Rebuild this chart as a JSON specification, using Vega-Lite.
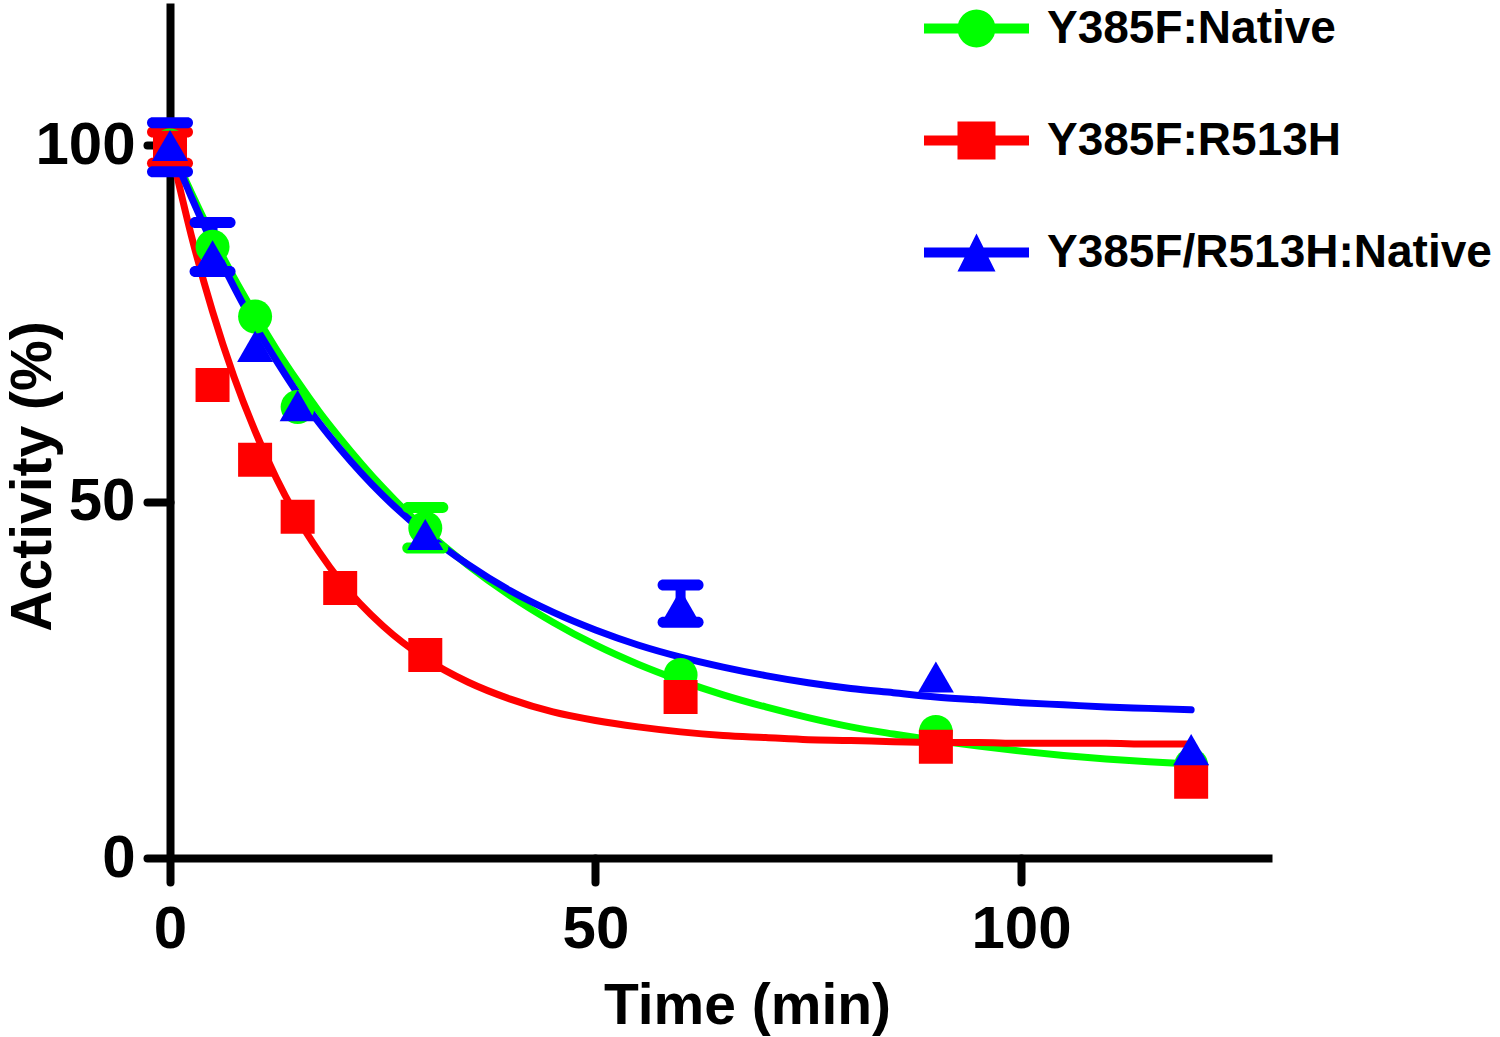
{
  "$schema": "https://vega.github.io/schema/vega-lite/v6.json",
  "width": 1102,
  "height": 855,
  "autosize": {"type": "none"},
  "padding": {"left": 170, "top": 3, "right": 228, "bottom": 179},
  "background": "white",
  "config": {
    "view": {"stroke": null},
    "font": "Liberation Sans",
    "axis": {
      "grid": false,
      "domainColor": "black",
      "domainWidth": 8,
      "tickColor": "black",
      "tickWidth": 8,
      "tickCap": "round",
      "labelColor": "black",
      "labelFont": "Liberation Sans",
      "labelFontWeight": "bold",
      "labelFontSize": 60,
      "labelFlush": false,
      "labelOverlap": false,
      "titleFont": "Liberation Sans",
      "titleFontWeight": "bold",
      "titleFontSize": 57,
      "titleColor": "black"
    },
    "legend": {
      "padding": 0,
      "labelFont": "Liberation Sans",
      "labelFontWeight": "bold",
      "labelFontSize": 46,
      "labelColor": "black",
      "labelOffset": 18,
      "labelLimit": 1000,
      "symbolSize": 11025,
      "symbolStrokeWidth": 0,
      "symbolOpacity": 1,
      "rowPadding": 36
    }
  },
  "datasets": {
    "points": [
      {"series": "Y385F:Native", "time": 0, "activity": 100},
      {"series": "Y385F:Native", "time": 5, "activity": 85.8},
      {"series": "Y385F:Native", "time": 10, "activity": 76.0},
      {"series": "Y385F:Native", "time": 15, "activity": 63.3},
      {"series": "Y385F:Native", "time": 30, "activity": 46.3},
      {"series": "Y385F:Native", "time": 60, "activity": 25.7},
      {"series": "Y385F:Native", "time": 90, "activity": 17.7},
      {"series": "Y385F:Native", "time": 120, "activity": 13.0},
      {"series": "Y385F:R513H", "time": 0, "activity": 99.7},
      {"series": "Y385F:R513H", "time": 5, "activity": 66.4},
      {"series": "Y385F:R513H", "time": 10, "activity": 55.9},
      {"series": "Y385F:R513H", "time": 15, "activity": 47.9},
      {"series": "Y385F:R513H", "time": 20, "activity": 37.9},
      {"series": "Y385F:R513H", "time": 30, "activity": 28.5},
      {"series": "Y385F:R513H", "time": 60, "activity": 22.6},
      {"series": "Y385F:R513H", "time": 90, "activity": 15.6},
      {"series": "Y385F:R513H", "time": 120, "activity": 10.7},
      {"series": "Y385F/R513H:Native", "time": 0, "activity": 100},
      {"series": "Y385F/R513H:Native", "time": 5, "activity": 84.5},
      {"series": "Y385F/R513H:Native", "time": 10, "activity": 71.8},
      {"series": "Y385F/R513H:Native", "time": 15, "activity": 63.5},
      {"series": "Y385F/R513H:Native", "time": 30, "activity": 45.4},
      {"series": "Y385F/R513H:Native", "time": 60, "activity": 35.5},
      {"series": "Y385F/R513H:Native", "time": 90, "activity": 25.4},
      {"series": "Y385F/R513H:Native", "time": 120, "activity": 15.2}
    ],
    "errors": [
      {"series": "Y385F:Native", "time": 30, "lo": 43.5, "hi": 49.2},
      {"series": "Y385F:R513H", "time": 0, "lo": 97.5, "hi": 101.9},
      {"series": "Y385F/R513H:Native", "time": 0, "lo": 96.3, "hi": 103.2},
      {"series": "Y385F/R513H:Native", "time": 5, "lo": 82.3, "hi": 89.2},
      {"series": "Y385F/R513H:Native", "time": 60, "lo": 33.1, "hi": 38.3}
    ],
    "curves": [
      {"series": "Y385F:Native", "time": 0, "activity": 100},
      {"series": "Y385F:Native", "time": 2.5, "activity": 93.4},
      {"series": "Y385F:Native", "time": 5, "activity": 87.2},
      {"series": "Y385F:Native", "time": 7.5, "activity": 81.5},
      {"series": "Y385F:Native", "time": 10, "activity": 76.3},
      {"series": "Y385F:Native", "time": 12.5, "activity": 71.4},
      {"series": "Y385F:Native", "time": 15, "activity": 66.9},
      {"series": "Y385F:Native", "time": 17.5, "activity": 62.7},
      {"series": "Y385F:Native", "time": 20, "activity": 58.9},
      {"series": "Y385F:Native", "time": 25, "activity": 52.0},
      {"series": "Y385F:Native", "time": 30, "activity": 46.1},
      {"series": "Y385F:Native", "time": 35, "activity": 41.1},
      {"series": "Y385F:Native", "time": 40, "activity": 36.8},
      {"series": "Y385F:Native", "time": 45, "activity": 33.1},
      {"series": "Y385F:Native", "time": 50, "activity": 29.9},
      {"series": "Y385F:Native", "time": 55, "activity": 27.2},
      {"series": "Y385F:Native", "time": 60, "activity": 24.9},
      {"series": "Y385F:Native", "time": 65, "activity": 22.9},
      {"series": "Y385F:Native", "time": 70, "activity": 21.2},
      {"series": "Y385F:Native", "time": 75, "activity": 19.7},
      {"series": "Y385F:Native", "time": 80, "activity": 18.4},
      {"series": "Y385F:Native", "time": 85, "activity": 17.4},
      {"series": "Y385F:Native", "time": 90, "activity": 16.5},
      {"series": "Y385F:Native", "time": 95, "activity": 15.7},
      {"series": "Y385F:Native", "time": 100, "activity": 15.0},
      {"series": "Y385F:Native", "time": 105, "activity": 14.4},
      {"series": "Y385F:Native", "time": 110, "activity": 13.9},
      {"series": "Y385F:Native", "time": 115, "activity": 13.5},
      {"series": "Y385F:Native", "time": 120, "activity": 13.2},
      {"series": "Y385F:R513H", "time": 0, "activity": 100},
      {"series": "Y385F:R513H", "time": 2.5, "activity": 87.4},
      {"series": "Y385F:R513H", "time": 5, "activity": 76.7},
      {"series": "Y385F:R513H", "time": 7.5, "activity": 67.6},
      {"series": "Y385F:R513H", "time": 10, "activity": 59.9},
      {"series": "Y385F:R513H", "time": 12.5, "activity": 53.3},
      {"series": "Y385F:R513H", "time": 15, "activity": 47.7},
      {"series": "Y385F:R513H", "time": 17.5, "activity": 43.0},
      {"series": "Y385F:R513H", "time": 20, "activity": 38.9},
      {"series": "Y385F:R513H", "time": 25, "activity": 32.6},
      {"series": "Y385F:R513H", "time": 30, "activity": 28.0},
      {"series": "Y385F:R513H", "time": 35, "activity": 24.7},
      {"series": "Y385F:R513H", "time": 40, "activity": 22.3},
      {"series": "Y385F:R513H", "time": 45, "activity": 20.5},
      {"series": "Y385F:R513H", "time": 50, "activity": 19.3},
      {"series": "Y385F:R513H", "time": 55, "activity": 18.4},
      {"series": "Y385F:R513H", "time": 60, "activity": 17.7},
      {"series": "Y385F:R513H", "time": 65, "activity": 17.2},
      {"series": "Y385F:R513H", "time": 70, "activity": 16.9},
      {"series": "Y385F:R513H", "time": 75, "activity": 16.6},
      {"series": "Y385F:R513H", "time": 80, "activity": 16.5},
      {"series": "Y385F:R513H", "time": 85, "activity": 16.3},
      {"series": "Y385F:R513H", "time": 90, "activity": 16.2},
      {"series": "Y385F:R513H", "time": 95, "activity": 16.2},
      {"series": "Y385F:R513H", "time": 100, "activity": 16.1},
      {"series": "Y385F:R513H", "time": 105, "activity": 16.1},
      {"series": "Y385F:R513H", "time": 110, "activity": 16.1},
      {"series": "Y385F:R513H", "time": 115, "activity": 16.0},
      {"series": "Y385F:R513H", "time": 120, "activity": 16.0},
      {"series": "Y385F/R513H:Native", "time": 0, "activity": 100},
      {"series": "Y385F/R513H:Native", "time": 2.5, "activity": 92.8},
      {"series": "Y385F/R513H:Native", "time": 5, "activity": 86.2},
      {"series": "Y385F/R513H:Native", "time": 7.5, "activity": 80.2},
      {"series": "Y385F/R513H:Native", "time": 10, "activity": 74.7},
      {"series": "Y385F/R513H:Native", "time": 12.5, "activity": 69.8},
      {"series": "Y385F/R513H:Native", "time": 15, "activity": 65.2},
      {"series": "Y385F/R513H:Native", "time": 17.5, "activity": 61.1},
      {"series": "Y385F/R513H:Native", "time": 20, "activity": 57.4},
      {"series": "Y385F/R513H:Native", "time": 25, "activity": 50.9},
      {"series": "Y385F/R513H:Native", "time": 30, "activity": 45.6},
      {"series": "Y385F/R513H:Native", "time": 35, "activity": 41.2},
      {"series": "Y385F/R513H:Native", "time": 40, "activity": 37.5},
      {"series": "Y385F/R513H:Native", "time": 45, "activity": 34.5},
      {"series": "Y385F/R513H:Native", "time": 50, "activity": 32.0},
      {"series": "Y385F/R513H:Native", "time": 55, "activity": 29.9},
      {"series": "Y385F/R513H:Native", "time": 60, "activity": 28.2},
      {"series": "Y385F/R513H:Native", "time": 65, "activity": 26.8},
      {"series": "Y385F/R513H:Native", "time": 70, "activity": 25.6},
      {"series": "Y385F/R513H:Native", "time": 75, "activity": 24.6},
      {"series": "Y385F/R513H:Native", "time": 80, "activity": 23.8},
      {"series": "Y385F/R513H:Native", "time": 85, "activity": 23.2},
      {"series": "Y385F/R513H:Native", "time": 90, "activity": 22.6},
      {"series": "Y385F/R513H:Native", "time": 95, "activity": 22.2},
      {"series": "Y385F/R513H:Native", "time": 100, "activity": 21.8},
      {"series": "Y385F/R513H:Native", "time": 105, "activity": 21.5},
      {"series": "Y385F/R513H:Native", "time": 110, "activity": 21.2},
      {"series": "Y385F/R513H:Native", "time": 115, "activity": 21.0},
      {"series": "Y385F/R513H:Native", "time": 120, "activity": 20.8}
    ]
  },
  "encoding": {
    "x": {
      "field": "time",
      "type": "quantitative",
      "title": "Time (min)",
      "scale": {"domain": [0, 129.5], "nice": false, "zero": false},
      "axis": {
        "values": [0, 50, 100],
        "tickSize": 24,
        "labelPadding": 18,
        "titleX": 577,
        "titleY": 165,
        "titleBaseline": "alphabetic",
        "titleAlign": "center"
      }
    },
    "y": {
      "field": "activity",
      "type": "quantitative",
      "title": "Activity (%)",
      "scale": {"domain": [0, 120], "nice": false, "zero": true},
      "axis": {
        "values": [0, 50, 100],
        "tickSize": 23,
        "labelPadding": 12,
        "titleX": -120,
        "titleY": 473,
        "titleAngle": -90,
        "titleBaseline": "alphabetic",
        "titleAlign": "center"
      }
    }
  },
  "layer": [
    {
      "data": {"name": "points"},
      "mark": {"type": "point", "filled": true, "size": 0, "opacity": 1},
      "encoding": {
        "color": {
          "field": "series",
          "type": "nominal",
          "scale": {
            "domain": ["Y385F:Native", "Y385F:R513H", "Y385F/R513H:Native"],
            "range": ["#00ff00", "#ff0000", "#0000ff"]
          },
          "legend": {"title": null, "orient": "none", "legendX": 754, "legendY": -27, "symbolOpacity": 1}
        },
        "shape": {
          "field": "series",
          "type": "nominal",
          "scale": {
            "domain": ["Y385F:Native", "Y385F:R513H", "Y385F/R513H:Native"],
            "range": [
              "M-1,-0.095H1V0.095H-1Z M-0.362,0A0.362,0.362,0,1,1,0.362,0A0.362,0.362,0,1,1,-0.362,0Z",
              "M-1,-0.095H1V0.095H-1Z M-0.362,-0.362H0.362V0.362H-0.362Z",
              "M-1,-0.095H1V0.095H-1Z M0,-0.362L0.362,0.362L-0.362,0.362Z"
            ]
          },
          "legend": {"title": null, "orient": "none", "legendX": 754, "legendY": -27, "symbolOpacity": 1}
        }
      }
    },
    {
      "data": {"name": "curves"},
      "mark": {"type": "line", "strokeWidth": 7, "interpolate": "monotone", "strokeCap": "round"},
      "encoding": {
        "stroke": {
          "field": "series",
          "type": "nominal",
          "scale": {
            "domain": ["Y385F/R513H:Native", "Y385F:Native", "Y385F:R513H"],
            "range": ["#0000ff", "#00ff00", "#ff0000"]
          },
          "legend": null
        }
      }
    },
    {
      "data": {"name": "errors"},
      "mark": {"type": "rule", "strokeWidth": 10},
      "encoding": {
        "y": {"field": "lo", "type": "quantitative", "title": "Activity (%)", "scale": {"domain": [0, 120], "nice": false}},
        "y2": {"field": "hi"},
        "stroke": {"field": "series", "type": "nominal", "legend": null}
      }
    },
    {
      "data": {"name": "errors"},
      "mark": {"type": "tick", "orient": "horizontal", "size": 46, "thickness": 11, "cornerRadius": 5.5, "opacity": 1},
      "encoding": {
        "y": {"field": "hi", "type": "quantitative", "title": "Activity (%)", "scale": {"domain": [0, 120], "nice": false}},
        "fill": {
          "field": "series",
          "type": "nominal",
          "scale": {
            "domain": ["Y385F/R513H:Native", "Y385F:Native", "Y385F:R513H"],
            "range": ["#0000ff", "#00ff00", "#ff0000"]
          },
          "legend": null
        }
      }
    },
    {
      "data": {"name": "errors"},
      "mark": {"type": "tick", "orient": "horizontal", "size": 46, "thickness": 11, "cornerRadius": 5.5, "opacity": 1},
      "encoding": {
        "y": {"field": "lo", "type": "quantitative", "title": "Activity (%)", "scale": {"domain": [0, 120], "nice": false}},
        "fill": {"field": "series", "type": "nominal", "legend": null}
      }
    },
    {
      "data": {"name": "points"},
      "transform": [{"filter": {"field": "series", "equal": "Y385F:Native"}}],
      "mark": {"type": "point", "shape": "circle", "filled": true, "opacity": 1, "size": 1156},
      "encoding": {"fill": {"field": "series", "type": "nominal", "legend": null}}
    },
    {
      "data": {"name": "points"},
      "transform": [{"filter": {"field": "series", "equal": "Y385F:R513H"}}],
      "mark": {"type": "point", "shape": "square", "filled": true, "opacity": 1, "size": 1156},
      "encoding": {"fill": {"field": "series", "type": "nominal", "legend": null}}
    },
    {
      "data": {"name": "points"},
      "transform": [{"filter": {"field": "series", "equal": "Y385F/R513H:Native"}}],
      "mark": {"type": "point", "shape": "triangle-up", "filled": true, "opacity": 1, "size": 1296},
      "encoding": {"fill": {"field": "series", "type": "nominal", "legend": null}}
    }
  ]
}
